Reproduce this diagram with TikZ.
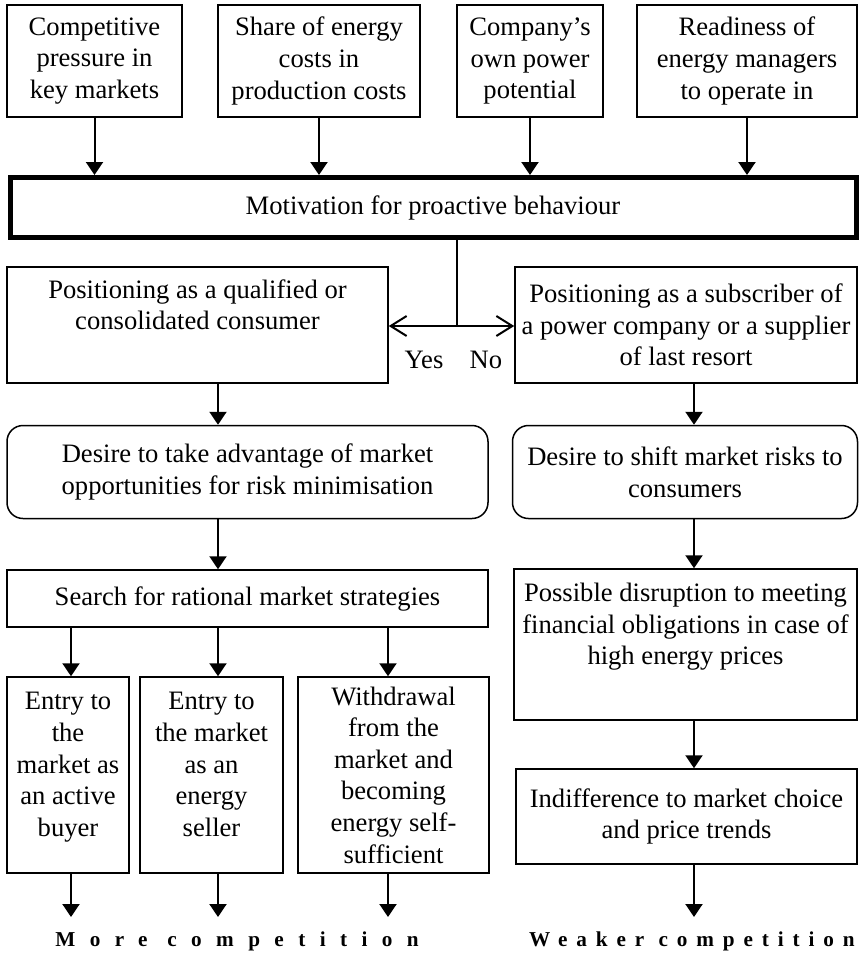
\documentclass[tikz,border=0pt]{standalone}
\usepackage{fontspec}
\setmainfont{Liberation Serif}
\usepackage{tikz}
\usetikzlibrary{positioning, arrows.meta, calc}
\newcommand{\blockfont}{\fontsize{13.3pt}{15.8pt}\selectfont}
\tikzset{
  % plain block: width, height
  block/.style 2 args={draw, line width=0.75pt, align=center, inner sep=2pt,
                       minimum width=#1, minimum height=#2, font=\blockfont},
  % rounded block = desire
  softblock/.style 2 args={block={#1}{#2}, rounded corners=8pt},
  % heavy frame = motivation
  keyblock/.style={draw, line width=2.5pt, align=center,
                   minimum width=423pt, minimum height=30pt, font=\blockfont},
  % filled head = flow
  flow/.style={-{Triangle[length=6.5pt,width=8.5pt]}, line width=1pt},
  % open head = yes/no branch
  branch/.style={-{Straight Barb[length=8pt,width=10pt]}, line width=1pt},
  % spaced bold caption
  outcome/.style={font=\fontsize{10.6pt}{12pt}\selectfont\bfseries
                  \addfontfeatures{LetterSpace=#1}},
}

\begin{document}
\begin{tikzpicture}[x=0.5pt, y=-0.5pt]
  \useasboundingbox (0,0) rectangle (859,955);
  \clip (0,0) rectangle (859,955);
  % factors
  \node[block={87.5pt}{56pt}] (compet) at ( 94.5,61) {Competitive\\pressure in\\key markets};
  \node[block={101pt}{56pt}]  (share)  at (319,61)   {Share of energy\\costs in\\production costs};
  \node[block={73pt}{56pt}]   (owncap) at (530,61)   {Company’s\\own power\\potential};
  \node[block={110pt}{56pt}]  (ready)  at (747,61)   {Readiness of\\energy managers\\to operate in};
  % motivation
  \node[keyblock] (motiv) at (433,207.5) {Motivation for proactive behaviour};
  \foreach \f in {compet,share,owncap,ready}
    \draw[flow] (\f.south) -- (\f.south |- motiv.north);

  % yes / no
  \node[block={190.5pt}{58pt}] (posyes) at (197.5,325)
    {Positioning as a qualified or\\consolidated consumer\\\strut};
  \node[block={171pt}{58pt}]   (posno)  at (686,325)
    {Positioning as a subscriber of\\a power company or a supplier\\of last resort};
  \coordinate (split) at (457,326);
  \draw[line width=1pt] (motiv.south -| split) -- (split);
  \draw[branch] (split) -- (split -| posyes.east);
  \draw[branch] (split) -- (split -| posno.west);
  \node[anchor=base, font=\blockfont] (yes) at (424,368) {Yes};
  \node[anchor=base, font=\blockfont] (no)  at (486,368) {No};

  % left branch
  \node[softblock={240.5pt}{46.5pt}] (desireL) at (247.5,472)
    {Desire to take advantage of market\\opportunities for risk minimisation};
  \node[block={240.5pt}{28.5pt}] (search) at (247.5,598.5)
    {Search for rational market strategies};
  \node[block={61pt}{98pt}]   (buyer)   at ( 68,775)
    {Entry to\\the\\market as\\an active\\buyer\\[-10pt]\strut};
  \node[block={71.5pt}{98pt}] (seller)  at (211.5,775)
    {Entry to\\the market\\as an\\energy\\seller\\[-10pt]\strut};
  \node[block={95.5pt}{98pt}, inner sep=1pt] (selfsuf) at (393.5,775)
    {Withdrawal\\from the\\market and\\becoming\\energy self-\\sufficient};

  % right branch
  \node[softblock={172.5pt}{46.5pt}] (desireR) at (685,472)
    {Desire to shift market risks to\\consumers};
  \node[block={171.5pt}{75.5pt}] (disrupt) at (685.5,644.5)
    {Possible disruption to meeting\\financial obligations in case of\\high energy prices\\\strut};
  \node[block={170.5pt}{47.5pt}] (indiff) at (686.5,816.5)
    {Indifference to market choice\\and price trends};

  % outcomes
  \node[outcome=68] (morecomp) at (237,941) {More competition};
  \node[outcome=42] (weakcomp) at (692,941) {Weaker competition};

  % connectors
  \coordinate (colA) at (71,0);
  \coordinate (colB) at (218,0);
  \coordinate (colC) at (388,0);
  \coordinate (colR) at (694,0);
  \coordinate (outy) at (0,917);
  \draw[flow] (posyes.south -| colB) -- (desireL.north -| colB);
  \draw[flow] (desireL.south -| colB) -- (search.north -| colB);
  \foreach \b/\c in {buyer/colA, seller/colB, selfsuf/colC} {
    \draw[flow] (search.south -| \c) -- (\b.north -| \c);
    \draw[flow] (\b.south -| \c) -- (outy -| \c);
  }
  \draw[flow] (posno.south -| colR) -- (desireR.north -| colR);
  \draw[flow] (desireR.south -| colR) -- (disrupt.north -| colR);
  \draw[flow] (disrupt.south -| colR) -- (indiff.north -| colR);
  \draw[flow] (indiff.south -| colR) -- (outy -| colR);
\end{tikzpicture}
\end{document}
